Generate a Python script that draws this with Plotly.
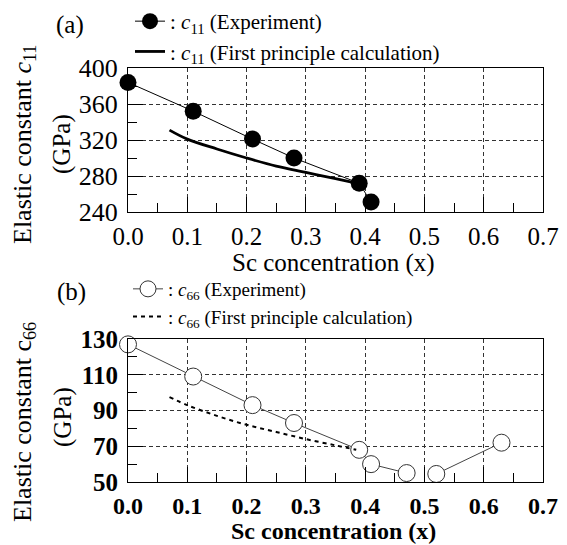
import plotly.graph_objects as go

# ---- data ----
x_exp_a = [0.0, 0.11, 0.21, 0.28, 0.39, 0.41]
c11_exp = [384, 352, 321, 300, 272, 251]
x_calc_a = [0.07, 0.10, 0.15, 0.20, 0.25, 0.30, 0.35, 0.385]
c11_calc = [331, 321, 310, 300, 291, 284, 277, 272]

x_exp_b = [0.0, 0.11, 0.21, 0.28, 0.39, 0.41, 0.47, None, 0.52, 0.63]
c66_exp = [127, 109, 93, 83, 68, 60, 55, None, 54.5, 72]
x_calc_b = [0.07, 0.10, 0.15, 0.20, 0.25, 0.30, 0.35, 0.385]
c66_calc = [97.5, 93, 87, 82, 78, 74, 70.5, 68]

x_ticks = [0.0, 0.1, 0.2, 0.3, 0.4, 0.5, 0.6, 0.7]
x_tick_text = ["0.0", "0.1", "0.2", "0.3", "0.4", "0.5", "0.6", "0.7"]
c11_ticks = [240, 280, 320, 360, 400]
c66_ticks = [50, 70, 90, 110, 130]

W, H = 567, 545
SERIF = "Liberation Serif"

fig = go.Figure()

fig.add_trace(go.Scatter(
    x=x_exp_a, y=c11_exp, mode="lines+markers", xaxis="x", yaxis="y",
    name=": <i>c</i><sub>11</sub> (Experiment)", legend="legend",
    line=dict(color="black", width=1),
    marker=dict(color="black", size=17, line=dict(width=0)),
    cliponaxis=False))
fig.add_trace(go.Scatter(
    x=x_calc_a, y=c11_calc, mode="lines", xaxis="x", yaxis="y",
    name=": <i>c</i><sub>11</sub> (First principle calculation)", legend="legend",
    line=dict(color="black", width=2.8, shape="spline"),
    cliponaxis=False))

fig.add_trace(go.Scatter(
    x=x_exp_b, y=c66_exp, mode="lines+markers", xaxis="x2", yaxis="y2",
    name=": <i>c</i><sub>66</sub> (Experiment)", legend="legend2",
    line=dict(color="#444", width=1),
    marker=dict(color="white", size=17, line=dict(color="#333", width=1)),
    connectgaps=False, cliponaxis=False))
fig.add_trace(go.Scatter(
    x=x_calc_b, y=c66_calc, mode="lines", xaxis="x2", yaxis="y2",
    name=": <i>c</i><sub>66</sub> (First principle calculation)", legend="legend2",
    line=dict(color="black", width=2, dash="4px,4px", shape="spline"),
    cliponaxis=False))

def px_x(p):
    return p / W

def px_y(p):
    return 1 - p / H

grid = dict(showgrid=True, gridcolor="#333", gridwidth=1, griddash="4px,3px",
            showline=True, linecolor="black", linewidth=1.2, mirror=True,
            ticks="inside", tickcolor="black", ticklen=15, tickwidth=1,
            zeroline=False, automargin=False)

xa = dict(grid, range=[0, 0.7], tickvals=x_ticks, ticktext=x_tick_text,
          minor=dict(dtick=0.05, tick0=0, ticks="inside", ticklen=9,
                     tickcolor="black", showgrid=False))

fig.update_layout(
    width=W, height=H, autosize=False,
    margin=dict(l=0, r=0, t=0, b=0, pad=0, autoexpand=False),
    paper_bgcolor="white", plot_bgcolor="white",
    showlegend=True,
    xaxis=dict(xa, domain=[px_x(128), px_x(543)], anchor="y",
               tickfont=dict(family=SERIF, size=25, color="black"),
               ticklabelstandoff=2),
    yaxis=dict(grid, domain=[px_y(212), px_y(68)], anchor="x",
               range=[240, 400], tickvals=c11_ticks,
               minor=dict(dtick=20, tick0=240, ticks="inside", ticklen=9,
                          tickcolor="black", showgrid=False),
               tickfont=dict(family=SERIF, size=26, color="black"),
               ticklabelstandoff=4),
    xaxis2=dict(xa, domain=[px_x(128), px_x(543)], anchor="y2",
                tickfont=dict(family=SERIF, size=24, color="black", weight="bold"),
                ticklabelstandoff=2),
    yaxis2=dict(grid, domain=[px_y(482), px_y(339)], anchor="x2",
                range=[50, 130], tickvals=c66_ticks,
                minor=dict(dtick=10, tick0=50, ticks="inside", ticklen=9,
                           tickcolor="black", showgrid=False),
                tickfont=dict(family=SERIF, size=25, color="black", weight="bold"),
                ticklabelstandoff=4),
    legend=dict(x=px_x(130), y=px_y(1), xanchor="left", yanchor="top",
                bgcolor="rgba(0,0,0,0)", tracegroupgap=0,
                font=dict(family=SERIF, size=21, color="black")),
    legend2=dict(x=px_x(128), y=px_y(270), xanchor="left", yanchor="top",
                 bgcolor="rgba(0,0,0,0)", tracegroupgap=0,
                 font=dict(family=SERIF, size=19, color="black")),
)

ann = [
    dict(text="(a)", x=px_x(70), y=px_y(25), font=dict(size=25)),
    dict(text="(b)", x=px_x(71), y=px_y(292), font=dict(size=25)),
    dict(text="Elastic constant <i>c</i><sub>11</sub>", x=px_x(24), y=px_y(145),
         textangle=-90, font=dict(size=26)),
    dict(text="(GPa)", x=px_x(62), y=px_y(144), textangle=-90, font=dict(size=25)),
    dict(text="Elastic constant c<sub>66</sub>", x=px_x(24), y=px_y(422),
         textangle=-90, font=dict(size=26)),
    dict(text="(GPa)", x=px_x(63), y=px_y(417), textangle=-90, font=dict(size=25)),
    dict(text="Sc concentration (x)", x=px_x(333), y=px_y(263), font=dict(size=25)),
    dict(text="<b>Sc concentration (x)</b>", x=px_x(333), y=px_y(531), font=dict(size=24)),
]
for a in ann:
    a.setdefault("xref", "paper")
    a.setdefault("yref", "paper")
    a["showarrow"] = False
    a["xanchor"] = "center"
    a["yanchor"] = "middle"
    a["font"] = dict(family=SERIF, color="black", **a["font"])
fig.update_layout(annotations=ann)

fig.write_html("out.html",
               config={"displayModeBar": False},
               post_script="document.body.style.margin='0';document.body.style.padding='0';")
